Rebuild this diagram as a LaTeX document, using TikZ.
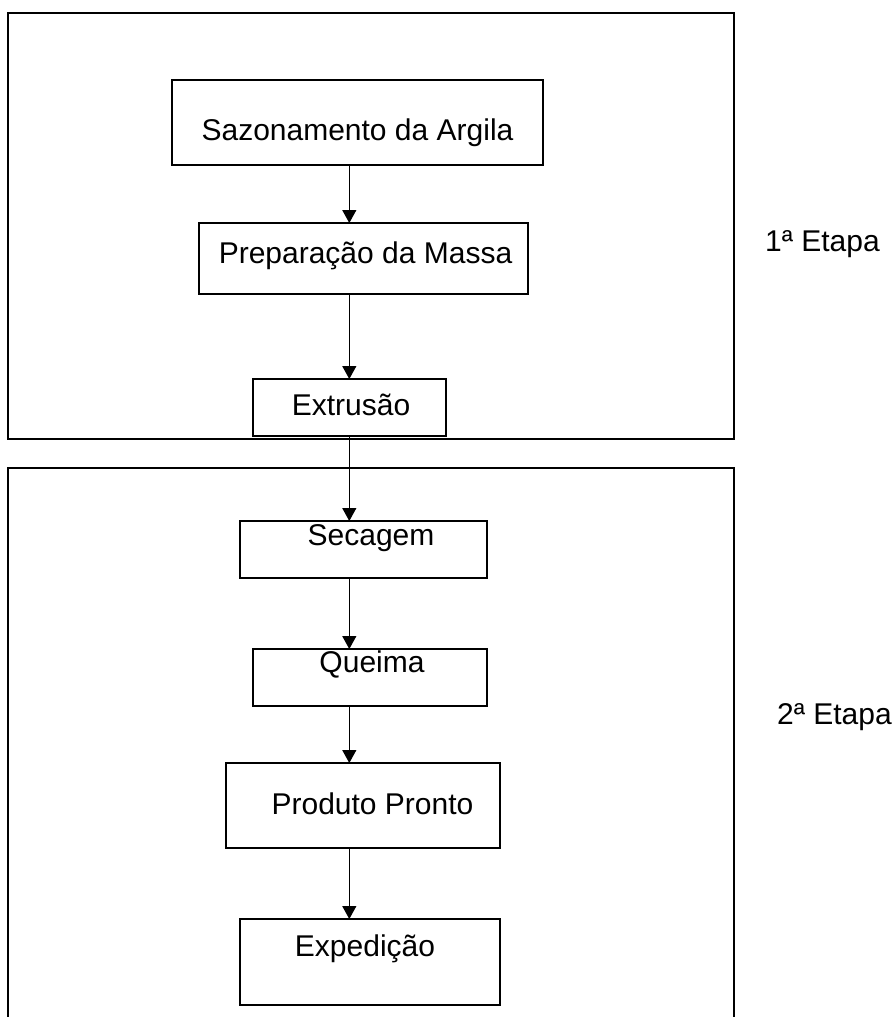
\documentclass[tikz,border=0pt]{standalone}
\usepackage{fontspec}
\setmainfont{Liberation Sans}
\usetikzlibrary{arrows.meta}
\begin{document}
\begin{tikzpicture}[x=1pt,y=-1pt,
  stage/.style={draw=black,line width=2pt},
  stepbox/.style={draw=black,line width=1.5pt,rectangle,inner sep=0pt,outer sep=0pt},
  steptext/.style={inner sep=0pt,anchor=base,font=\fontsize{30}{36}\selectfont},
  lbl/.style={inner sep=0pt,anchor=base west,font=\fontsize{30}{36}\selectfont},
  flow/.style={draw=black,line width=1.3pt,-{Triangle[width=14pt,length=13pt]}}]
\useasboundingbox (0,0) rectangle (894,1017);

% stage frames
\draw[stage] (8,13) rectangle (734,439);
\draw[stage] (8,1018) -- (8,468) -- (734,468) -- (734,1018);

% process boxes
\node[stepbox,minimum width=371pt,minimum height=85pt] (sazon) at (357.5,122.5) {};
\node[stepbox,minimum width=329pt,minimum height=71pt] (prep) at (363.5,258.5) {};
\node[stepbox,minimum width=193pt,minimum height=57pt] (extr) at (349.5,407.5) {};
\node[stepbox,minimum width=247pt,minimum height=57pt] (sec) at (363.5,549.5) {};
\node[stepbox,minimum width=234pt,minimum height=57pt] (queima) at (370,677.5) {};
\node[stepbox,minimum width=274pt,minimum height=85pt] (prod) at (363,805.5) {};
\node[stepbox,minimum width=260pt,minimum height=86pt] (exped) at (370,962) {};

% box texts
\node[steptext] (tsazon) at (357.5,140.5) {Sazonamento da Argila};
\node[steptext] (tprep) at (365.5,263.5) {Preparação da Massa};
\node[steptext] (textr) at (351,415.5) {Extrusão};
\node[steptext] (tsec) at (371,545) {Secagem};
\node[steptext] (tqueima) at (372,672) {Queima};
\node[steptext] (tprod) at (372.5,814) {Produto Pronto};
\node[steptext] (texped) at (365,956.5) {Expedição};

% stage labels
\node[lbl] (etapa1) at (765,251) {1ª Etapa};
\node[lbl] (etapa2) at (777,724.5) {2ª Etapa};

% flow arrows along one vertical axis
\coordinate (axis) at (349.3,0);
\draw[flow] (sazon.south -| axis) -- (prep.north -| axis);
\draw[flow] (prep.south -| axis) -- (extr.north -| axis);
\draw[flow] (extr.south -| axis) -- (sec.north -| axis);
\draw[flow] (sec.south -| axis) -- (queima.north -| axis);
\draw[flow] (queima.south -| axis) -- (prod.north -| axis);
\draw[flow] (prod.south -| axis) -- (exped.north -| axis);
\end{tikzpicture}
\end{document}
